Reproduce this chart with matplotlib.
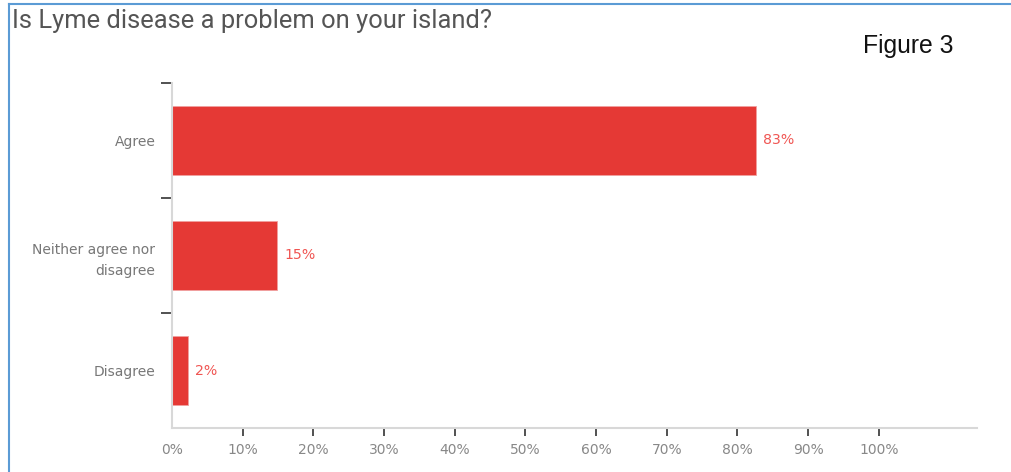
import matplotlib.pyplot as plt
import matplotlib.lines as mlines
import numpy as np

categories = ['Agree', 'Neither agree nor\ndisagree', 'Disagree']
values = [82.6, 14.9, 2.3]
value_labels = ['83%', '15%', '2%']
xtick_values = [0, 10, 20, 30, 40, 50, 60, 70, 80, 90, 100]
xtick_labels = ['0%', '10%', '20%', '30%', '40%', '50%', '60%', '70%', '80%', '90%', '100%']

fig = plt.figure(figsize=(10.12, 4.72), dpi=100)
ax = fig.add_axes([0.170, 0.0932, 0.7954, 0.731])

pos = np.arange(len(categories))
ax.barh(pos, values, height=0.6, color='#e53935', edgecolor='#f0a0a0', linewidth=0.6)

for p, v, lab in zip(pos, values, value_labels):
    ax.text(v + 1.0, p, lab, va='center', ha='left', fontsize=10.2,
            color='#f05552', family='DejaVu Sans')

ax.set_xlim(0, 113.9)
ax.set_ylim(2.5, -0.5)

# boundary ticks on the y axis, labels at the bar centres
ax.set_yticks([-0.5, 0.5, 1.5])
ax.set_yticklabels([])
ax.set_yticks(pos, minor=True)
ax.set_yticklabels(categories, minor=True, fontsize=10, color='#777777',
                   family='DejaVu Sans', ha='right', linespacing=1.6)
ax.tick_params(axis='y', which='major', length=8, width=1.2, color='#333333', direction='out')
ax.tick_params(axis='y', which='minor', length=0, pad=12)

ax.set_xticks(xtick_values)
ax.set_xticklabels(xtick_labels, fontsize=10, color='#888888', family='DejaVu Sans')
ax.tick_params(axis='x', length=6, width=1.2, color='#333333', pad=5)
ax.xaxis.get_major_ticks()[0].tick1line.set_visible(False)

for s in ['top', 'right']:
    ax.spines[s].set_visible(False)
for s in ['left', 'bottom']:
    ax.spines[s].set_color('#d8d8d8')
    ax.spines[s].set_linewidth(1.5)

fig.text(0.012, 0.955, 'Is Lyme disease a problem on your island?', fontsize=18.4,
         color='#555555', family='Roboto', va='center', ha='left')
fig.text(0.853, 0.903, 'Figure 3', fontsize=17.8, color='#111111',
         family='Liberation Sans', va='center', ha='left')

# blue frame lines at the top and left edge
fig.add_artist(mlines.Line2D([0.009, 1.0], [0.992, 0.992], color='#5b9bd5', lw=1.5))
fig.add_artist(mlines.Line2D([0.009, 0.009], [0.0, 0.992], color='#5b9bd5', lw=1.5))

fig.savefig('out.png', dpi=100)
